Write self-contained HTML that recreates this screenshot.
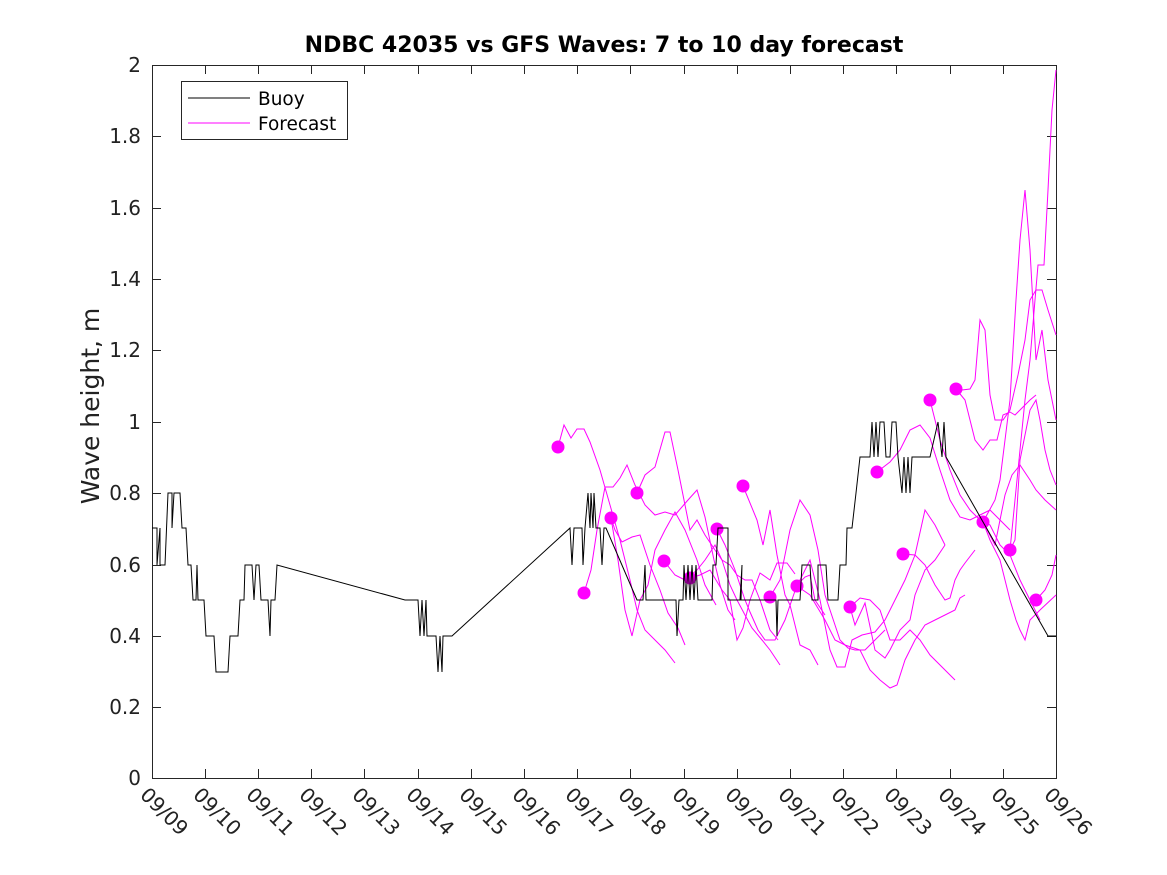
<!DOCTYPE html><html><head><style>body{margin:0;background:#fff}svg{display:block;font-family:"DejaVu Sans","Liberation Sans",sans-serif}</style></head><body>
<svg width="1167" height="875" viewBox="0 0 1167 875">
<rect width="1167" height="875" fill="#fff"/>
<text x="604" y="52" text-anchor="middle" font-size="22" font-weight="bold" fill="#000">NDBC 42035 vs GFS Waves: 7 to 10 day forecast</text>
<g font-size="20" fill="#222" text-anchor="end">
<text x="141" y="785">0</text><text x="141" y="714">0.2</text><text x="141" y="643">0.4</text><text x="141" y="572">0.6</text><text x="141" y="500">0.8</text><text x="141" y="429">1</text><text x="141" y="357">1.2</text><text x="141" y="286">1.4</text><text x="141" y="215">1.6</text><text x="141" y="143">1.8</text><text x="141" y="72">2</text>
</g>
<text transform="translate(99,406) rotate(-90)" text-anchor="middle" font-size="25" fill="#222">Wave height, m</text>
<g stroke="#262626" stroke-width="1" fill="none">
<rect x="152.5" y="65.5" width="904" height="713"/>
<path d="M152 707.5h9M152 636.5h9M152 565.5h9M152 493.5h9M152 422.5h9M152 350.5h9M152 279.5h9M152 208.5h9M152 136.5h9M1056 707.5h-9M1056 636.5h-9M1056 565.5h-9M1056 493.5h-9M1056 422.5h-9M1056 350.5h-9M1056 279.5h-9M1056 208.5h-9M1056 136.5h-9"/>
<path d="M205.5 778v-9M258.5 778v-9M311.5 778v-9M364.5 778v-9M418.5 778v-9M471.5 778v-9M524.5 778v-9M577.5 778v-9M630.5 778v-9M684.5 778v-9M737.5 778v-9M790.5 778v-9M843.5 778v-9M896.5 778v-9M950.5 778v-9M1003.5 778v-9M205.5 65v9M258.5 65v9M311.5 65v9M364.5 65v9M418.5 65v9M471.5 65v9M524.5 65v9M577.5 65v9M630.5 65v9M684.5 65v9M737.5 65v9M790.5 65v9M843.5 65v9M896.5 65v9M950.5 65v9M1003.5 65v9"/>
</g>
<g font-size="20" fill="#222">
<text transform="translate(139,796) rotate(45)">09/09</text><text transform="translate(192,796) rotate(45)">09/10</text><text transform="translate(245,796) rotate(45)">09/11</text><text transform="translate(298,796) rotate(45)">09/12</text><text transform="translate(351,796) rotate(45)">09/13</text><text transform="translate(405,796) rotate(45)">09/14</text><text transform="translate(458,796) rotate(45)">09/15</text><text transform="translate(511,796) rotate(45)">09/16</text><text transform="translate(564,796) rotate(45)">09/17</text><text transform="translate(617,796) rotate(45)">09/18</text><text transform="translate(671,796) rotate(45)">09/19</text><text transform="translate(724,796) rotate(45)">09/20</text><text transform="translate(777,796) rotate(45)">09/21</text><text transform="translate(830,796) rotate(45)">09/22</text><text transform="translate(883,796) rotate(45)">09/23</text><text transform="translate(937,796) rotate(45)">09/24</text><text transform="translate(990,796) rotate(45)">09/25</text><text transform="translate(1043,796) rotate(45)">09/26</text>
</g>
<g fill="none" stroke="#f0f" stroke-width="1">
<polyline points="558,447 564,425 571,438 577,429 584,429 590,442 600,470 610,505 620,540 630,580 637,610 645,630 655,640 665,650 675,663"/>
<polyline points="584,593 591,570 597,530 605,487 613,487 620,478 627,465 635,485 645,505 655,515 665,512 675,515 688,500 697,490 705,517 714,560 720,585 728,610 735,620"/>
<polyline points="611,518 615,530 622,542 632,537 640,535 650,565 660,590 668,613 678,628 685,645"/>
<polyline points="611,518 618,560 625,610 632,636 640,600 648,585 655,550 665,530 675,512 685,530 697,560 705,585 716,605"/>
<polyline points="637,493 645,475 655,467 665,432 670,432 678,470 685,505 690,530 697,520 705,535 715,550 722,560 730,565 737,575 745,580 752,580 760,600 770,630 778,640"/>
<polyline points="664,561 675,575 685,580 697,570 705,560 715,545 722,560 730,585 737,600 745,615 752,628 762,640 770,650 780,665"/>
<polyline points="690,578 700,575 710,570 722,590 730,600 737,640 743,628 750,600 760,573 770,580 777,563 787,563 795,574"/>
<polyline points="717,529 725,545 735,570 745,600 750,612 758,630 765,640 775,640 785,620 797,585 805,577 810,575 815,600 825,615"/>
<polyline points="743,486 757,520 763,545 770,510 777,555 785,595 790,605 800,645 810,650 818,665"/>
<polyline points="770,597 780,580 790,530 800,500 810,515 818,550 825,595 835,625 840,640 848,648 855,650 865,650 875,640 885,630"/>
<polyline points="797,586 805,570 810,560 820,600 830,650 837,667 845,667 852,640 862,635 875,632 885,620 895,600 905,580 915,555 925,510 935,525 945,545"/>
<polyline points="797,586 810,595 825,620 835,640 845,645 860,650 870,670 880,680 890,688 897,685 905,660 915,640 925,625 935,620 945,615 955,610 960,598 965,595"/>
<polyline points="850,607 860,598 870,600 880,610 890,640 900,640 910,630 920,640 930,655 945,670 955,680"/>
<polyline points="850,607 855,625 865,603 875,650 885,658 890,650 900,630 910,620 915,595 925,570 935,560 945,545"/>
<polyline points="877,472 890,462 900,450 910,430 920,425 930,438 940,470 950,500 960,517 970,520 980,515 990,510 1000,520 1010,530"/>
<polyline points="903,554 915,555 925,565 935,585 945,600 950,598 955,580 960,570 965,563 975,550"/>
<polyline points="930,400 940,440 950,470 960,495 970,510 980,520 990,525 1000,545 1010,555 1020,580 1030,600 1040,620"/>
<polyline points="956,389 965,400 970,420 975,440 983,450 990,440 997,440 1003,415 1010,412 1015,415 1020,410 1030,400 1036,395"/>
<polyline points="956,389 962,390 970,389 975,380 980,320 985,330 990,395 995,420 1003,420 1010,410 1018,375 1025,340 1030,300 1036,290 1042,290 1048,310 1056,335"/>
<polyline points="983,522 990,540 1000,560 1005,580 1010,600 1016,620 1020,630 1025,640 1030,620 1040,610 1056,595"/>
<polyline points="1010,550 1015,540 1020,460 1030,410 1036,400 1040,420 1045,450 1050,470 1056,485"/>
<polyline points="1010,550 1018,470 1025,400 1030,360 1035,300 1038,265 1044,265 1048,190 1052,110 1056,70"/>
<polyline points="983,522 995,545 1000,520 1005,495 1012,475 1020,465 1030,480 1036,490 1045,500 1056,510"/>
<polyline points="1036,600 1045,590 1052,575 1056,555"/>
<polyline points="983,522 995,500 1000,480 1010,400 1016,300 1020,240 1025,190 1030,250 1036,360 1042,330 1048,380 1056,420"/>
</g>
<g fill="#f0f">
<circle cx="558" cy="447" r="6.5"/><circle cx="584" cy="593" r="6.5"/><circle cx="611" cy="518" r="6.5"/><circle cx="637" cy="493" r="6.5"/><circle cx="664" cy="561" r="6.5"/><circle cx="690" cy="578" r="6.5"/><circle cx="717" cy="529" r="6.5"/><circle cx="743" cy="486" r="6.5"/><circle cx="770" cy="597" r="6.5"/><circle cx="797" cy="586" r="6.5"/><circle cx="850" cy="607" r="6.5"/><circle cx="877" cy="472" r="6.5"/><circle cx="903" cy="554" r="6.5"/><circle cx="930" cy="400" r="6.5"/><circle cx="956" cy="389" r="6.5"/><circle cx="983" cy="522" r="6.5"/><circle cx="1010" cy="550" r="6.5"/><circle cx="1036" cy="600" r="6.5"/>
</g>
<polyline fill="none" stroke="#000" stroke-width="1" points="152,528 157,528 157,565 160,528 160,565 165,565 168,493 172,493 172,528 174,493 180,493 182,528 186,528 188,565 191,565 193,600 196,600 197,565 198,600 204,600 206,636 214,636 216,672 228,672 230,636 238,636 240,600 244,600 245,565 252,565 254,600 256,565 259,565 261,600 268,600 270,636 271,600 275,600 277,565 405,600 418,600 420,636 422,600 424,636 426,600 427,636 436,636 438,672 440,636 442,672 443,636 452,636 570,528 572,565 574,528 582,528 583,565 585,528 588,493 590,528 591,493 593,528 594,493 596,528 600,528 602,565 604,528 606,528 637,600 643,600 645,565 646,600 676,600 677,636 679,600 683,600 684,565 686,600 688,565 690,600 692,565 694,600 696,565 698,600 712,600 713,565 716,565 718,528 728,528 728,600 740,600 742,565 741,600 776,600 777,636 778,600 800,600 802,565 810,565 812,600 818,600 818,565 826,565 828,600 838,600 840,565 846,565 847,528 850,528 851,528 852,528 856,493 860,457 870,457 872,422 874,457 876,422 878,457 880,422 884,422 886,457 890,457 892,422 896,422 898,457 902,493 904,457 906,493 908,457 910,493 912,457 930,457 938,422 942,457 944,422 946,457 1048,636 1056,636"/>
<rect x="181.5" y="81.5" width="166" height="58" fill="#fff" stroke="#262626"/>
<line x1="188" y1="98" x2="250" y2="98" stroke="#000"/>
<line x1="188" y1="123" x2="250" y2="123" stroke="#f0f"/>
<text x="258" y="105" font-size="18.5" fill="#000">Buoy</text>
<text x="258" y="130" font-size="18.5" fill="#000">Forecast</text>
</svg></body></html>
